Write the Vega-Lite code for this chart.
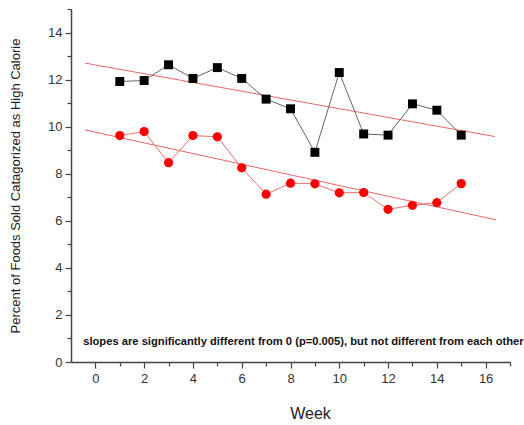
{
  "$schema": "https://vega.github.io/schema/vega-lite/v6.json",
  "width": 439,
  "height": 353,
  "autosize": "none",
  "padding": {"left": 71, "top": 9, "right": 14, "bottom": 63},
  "background": "white",
  "config": {"view": {"stroke": null}, "font": "Liberation Sans"},
  "datasets": {
    "black": [
      {"week": 1, "pct": 11.92}, {"week": 2, "pct": 11.96}, {"week": 3, "pct": 12.63},
      {"week": 4, "pct": 12.05}, {"week": 5, "pct": 12.51}, {"week": 6, "pct": 12.05},
      {"week": 7, "pct": 11.17}, {"week": 8, "pct": 10.76}, {"week": 9, "pct": 8.91},
      {"week": 10, "pct": 12.30}, {"week": 11, "pct": 9.69}, {"week": 12, "pct": 9.64},
      {"week": 13, "pct": 10.97}, {"week": 14, "pct": 10.70}, {"week": 15, "pct": 9.64}
    ],
    "red": [
      {"week": 1, "pct": 9.62}, {"week": 2, "pct": 9.79}, {"week": 3, "pct": 8.47},
      {"week": 4, "pct": 9.62}, {"week": 5, "pct": 9.57}, {"week": 6, "pct": 8.25},
      {"week": 7, "pct": 7.13}, {"week": 8, "pct": 7.60}, {"week": 9, "pct": 7.57},
      {"week": 10, "pct": 7.19}, {"week": 11, "pct": 7.20}, {"week": 12, "pct": 6.49},
      {"week": 13, "pct": 6.66}, {"week": 14, "pct": 6.77}, {"week": 15, "pct": 7.58}
    ],
    "trends": [
      {"series": "black", "week": -0.42, "pct": 12.70},
      {"series": "black", "week": 16.38, "pct": 9.58},
      {"series": "red", "week": -0.42, "pct": 9.86},
      {"series": "red", "week": 16.43, "pct": 6.04}
    ],
    "note": [
      {"week": -0.5, "pct": 0.85, "label": "slopes are significantly different from 0 (p=0.005), but not different from each other"}
    ],
    "minor": [
      {"week": -1, "pct": 1}
    ]
  },
  "resolve": {"axis": {"x": "independent", "y": "independent"}},
  "layer": [
    {
      "data": {"name": "trends"},
      "mark": {"type": "line", "color": "#e86868", "strokeWidth": 1},
      "encoding": {
        "x": {"field": "week", "type": "quantitative",
          "scale": {"domain": [-1, 17], "nice": false, "zero": false},
          "axis": {"orient": "bottom", "values": [0, 2, 4, 6, 8, 10, 12, 14, 16], "title": "Week",
            "grid": false, "domainColor": "#444", "domainWidth": 1.5, "tickColor": "#444", "tickWidth": 1.2,
            "tickSize": 6, "labelFontSize": 13, "labelColor": "#333", "labelPadding": 4,
            "titleFontSize": 16, "titleFontWeight": "normal", "titleColor": "#222",
            "titleX": 239, "titleY": 51, "titleBaseline": "middle"}},
        "y": {"field": "pct", "type": "quantitative",
          "scale": {"domain": [0, 15], "nice": false},
          "axis": {"orient": "left", "values": [0, 2, 4, 6, 8, 10, 12, 14],
            "title": "Percent of Foods Sold Catagorized as High Calorie",
            "grid": false, "domainColor": "#444", "domainWidth": 1.5, "tickColor": "#444", "tickWidth": 1.2,
            "tickSize": 6, "labelFontSize": 13, "labelColor": "#333", "labelPadding": 3,
            "titleFontSize": 13, "titleFontWeight": "normal", "titleColor": "#222", "titlePadding": 25}},
        "detail": {"field": "series"}
      }
    },
    {
      "data": {"name": "minor"},
      "mark": {"type": "point", "opacity": 0},
      "encoding": {
        "x": {"field": "week", "type": "quantitative",
          "axis": {"orient": "bottom", "values": [1, 3, 5, 7, 9, 11, 13, 15, 17], "labels": false, "domain": false,
            "title": null, "grid": false, "tickColor": "#444", "tickWidth": 1.2, "tickSize": 4}},
        "y": {"field": "pct", "type": "quantitative",
          "axis": {"orient": "left", "values": [1, 3, 5, 7, 9, 11, 13, 15], "labels": false, "domain": false,
            "title": null, "grid": false, "tickColor": "#444", "tickWidth": 1.2, "tickSize": 4}}
      }
    },
    {
      "data": {"name": "black"},
      "mark": {"type": "line", "color": "#666", "strokeWidth": 1},
      "encoding": {
        "x": {"field": "week", "type": "quantitative", "axis": null},
        "y": {"field": "pct", "type": "quantitative", "axis": null}
      }
    },
    {
      "data": {"name": "red"},
      "mark": {"type": "line", "color": "#ee7070", "strokeWidth": 1},
      "encoding": {
        "x": {"field": "week", "type": "quantitative", "axis": null},
        "y": {"field": "pct", "type": "quantitative", "axis": null}
      }
    },
    {
      "data": {"name": "black"},
      "mark": {"type": "square", "color": "#000", "filled": true, "opacity": 1, "size": 80},
      "encoding": {
        "x": {"field": "week", "type": "quantitative", "axis": null},
        "y": {"field": "pct", "type": "quantitative", "axis": null}
      }
    },
    {
      "data": {"name": "red"},
      "mark": {"type": "circle", "color": "#ff0000", "opacity": 1, "size": 85},
      "encoding": {
        "x": {"field": "week", "type": "quantitative", "axis": null},
        "y": {"field": "pct", "type": "quantitative", "axis": null}
      }
    },
    {
      "data": {"name": "note"},
      "mark": {"type": "text", "align": "left", "baseline": "middle", "fontSize": 11.2, "fontWeight": "bold", "color": "#111", "font": "Liberation Sans"},
      "encoding": {
        "x": {"field": "week", "type": "quantitative", "axis": null},
        "y": {"field": "pct", "type": "quantitative", "axis": null},
        "text": {"field": "label"}
      }
    }
  ]
}
